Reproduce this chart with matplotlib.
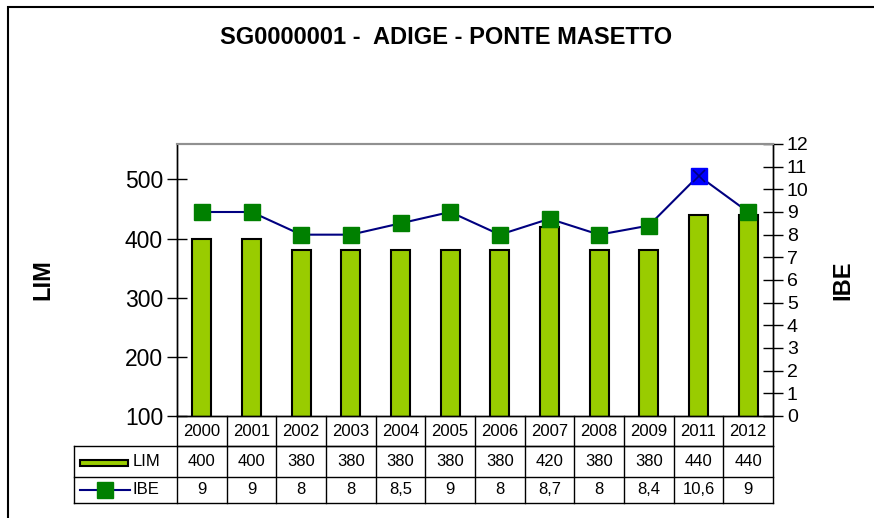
import matplotlib
matplotlib.use("Agg")
import matplotlib.pyplot as plt
from matplotlib.patches import Rectangle
from matplotlib.lines import Line2D
import matplotlib.transforms as mtrans

plt.rcParams['font.family'] = ['Liberation Sans', 'DejaVu Sans']

title = "SG0000001 -  ADIGE - PONTE MASETTO"
years = ["2000", "2001", "2002", "2003", "2004", "2005", "2006", "2007", "2008", "2009", "2011", "2012"]
lim = [400, 400, 380, 380, 380, 380, 380, 420, 380, 380, 440, 440]
ibe = [9, 9, 8, 8, 8.5, 9, 8, 8.7, 8, 8.4, 10.6, 9]
ibe_labels = ["9", "9", "8", "8", "8,5", "9", "8", "8,7", "8", "8,4", "10,6", "9"]
highlight = "2011"

W, H = 874, 518
fig = plt.figure(figsize=(W / 100, H / 100), dpi=100)

# outer frame
fig.add_artist(Rectangle((8 / W, -0.1), 2, (H - 6.5) / H + 0.1, transform=fig.transFigure,
                         fill=False, edgecolor='black', linewidth=1.5))

L, R, T, B = 177, 773, 144, 416
ax = fig.add_axes([L / W, 1 - B / H, (R - L) / W, (B - T) / H])
ax2 = ax.twinx()

x = list(range(len(years)))
ax.bar(x, lim, width=0.38, bottom=0, color='#99CC00', edgecolor='black', linewidth=1.5, zorder=2)
ax.set_ylim(100, 560)
ax.set_xlim(-0.5, len(years) - 0.5)
ax.set_yticks([100, 200, 300, 400, 500])
ax.tick_params(axis='y', direction='inout', length=14, width=1, labelsize=16.5, pad=3)
ax.tick_params(axis='x', bottom=False, labelbottom=False)
ax.set_ylabel("LIM", fontsize=17, fontweight='bold', labelpad=0)
ax.yaxis.set_label_coords(-(L - 54) / (R - L), 0.5)

ax2.plot(x, ibe, color='#000080', linewidth=1.5, zorder=3)
for xi, yi, yr in zip(x, ibe, years):
    if yr == highlight:
        ax2.plot([xi], [yi], marker='s', markersize=12, color='#0000FF', linestyle='none', zorder=4)
        ax2.plot([xi], [yi], marker='x', markersize=9, color='#000080', markeredgewidth=1.2,
                 linestyle='none', zorder=5)
    else:
        ax2.plot([xi], [yi], marker='s', markersize=12, color='#008000', linestyle='none', zorder=4)
ax2.set_ylim(0, 12)
ax2.set_yticks(range(0, 13))
ax2.tick_params(axis='y', direction='inout', length=14, width=1, labelsize=14, pad=3)
ax2.set_ylabel("IBE", fontsize=17, fontweight='bold', labelpad=0)
ax2.yaxis.set_label_coords(1 + (831 - R) / (R - L), 0.5)

for a in (ax, ax2):
    a.spines['top'].set_color('#909090')
    a.spines['top'].set_linewidth(1.5)
    a.spines['bottom'].set_linewidth(1)
    a.spines['left'].set_linewidth(1)
    a.spines['right'].set_linewidth(1)

fig.text(446 / W, 1 - 37 / H, title, ha='center', va='center', fontsize=17, fontweight='bold')

# data table below the axes
tr = mtrans.blended_transform_factory(ax.transData, ax.transAxes)
tra = ax.transAxes
def yf(py):
    return (B - py) / (B - T)
def xf(px):
    return (px - L) / (R - L)
y0, y1, y2, y3 = yf(416), yf(446), yf(477), yf(503)
xl = xf(74)
n = len(years)
kw = dict(color='black', linewidth=1, clip_on=False)
ax.add_line(Line2D([0, 1], [y1, y1], transform=tra, **kw))
ax.add_line(Line2D([xl, 1], [y1, y1], transform=tra, **kw))
ax.add_line(Line2D([xl, 1], [y2, y2], transform=tra, **kw))
ax.add_line(Line2D([xl, 1], [y3, y3], transform=tra, **kw))
ax.add_line(Line2D([xl, xl], [y1, y3], transform=tra, **kw))
for i in range(n + 1):
    xb = i - 0.5
    ax.add_line(Line2D([xb, xb], [y0, y3], transform=tr, **kw))
fs = 12
for i in range(n):
    ax.text(i, (y0 + y1) / 2, years[i], transform=tr, ha='center', va='center', fontsize=fs)
    ax.text(i, (y1 + y2) / 2, str(lim[i]), transform=tr, ha='center', va='center', fontsize=fs)
    ax.text(i, (y2 + y3) / 2, ibe_labels[i], transform=tr, ha='center', va='center', fontsize=fs)

# legend keys
ax.add_patch(Rectangle((xf(80), yf(466)), xf(128) - xf(80), yf(460) - yf(466), transform=tra,
                       facecolor='#99CC00', edgecolor='black', linewidth=1.5, clip_on=False))
ax.text(xf(133), (y1 + y2) / 2, "LIM", transform=tra, ha='left', va='center', fontsize=fs)
ax.add_line(Line2D([xf(80), xf(130)], [(y2 + y3) / 2] * 2, transform=tra, color='#000080',
                   linewidth=1.5, clip_on=False))
ax.add_line(Line2D([xf(105)], [(y2 + y3) / 2], transform=tra, marker='s', markersize=12,
                   color='#008000', linestyle='none', clip_on=False))
ax.text(xf(133), (y2 + y3) / 2, "IBE", transform=tra, ha='left', va='center', fontsize=fs)

fig.savefig("out.png", dpi=100)
